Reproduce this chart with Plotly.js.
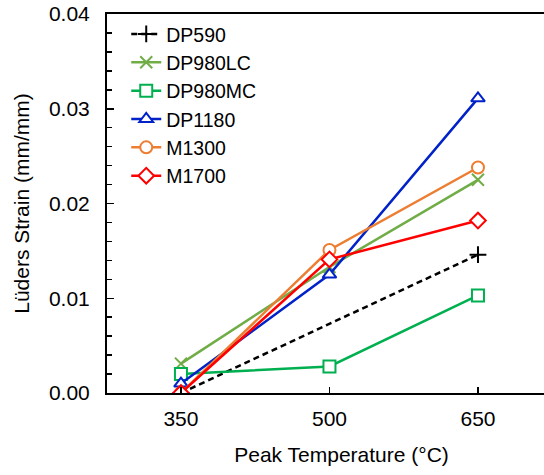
<!DOCTYPE html>
<html>
<head>
<meta charset="utf-8">
<script src="https://cdn.plot.ly/plotly-3.0.1.min.js"></script>
<style>
  html, body { margin: 0; padding: 0; overflow: hidden; background: #fff; }
  #chart { width: 576px; height: 475px; }
</style>
</head>
<body>
<div id="chart"></div>
<script>
// Peak temperature categories (°C)
const temps = [350, 500, 650];

// Lüders strain (mm/mm) per steel grade
const dp590   = [0.0000, null,   0.0146];
const dp980lc = [0.0031, 0.0133, 0.0225];
const dp980mc = [0.0020, 0.0028, 0.0103];
const dp1180  = [0.0010, 0.0125, 0.0311];
const m1300   = [0.0000, 0.0151, 0.0238];
const m1700   = [0.0000, 0.0141, 0.0182];

const seriesNames = ['DP590', 'DP980LC', 'DP980MC', 'DP1180', 'M1300', 'M1700'];
const FONT = 'Arial, "Liberation Sans", sans-serif';

function series(name, y, color, symbol, dash, filled) {
  return {
    type: 'scatter',
    mode: 'lines+markers',
    name: name,
    x: temps,
    y: y,
    connectgaps: true,
    line: { color: color, width: 2.5, dash: dash },
    marker: {
      symbol: symbol,
      size: 12,
      color: filled ? '#ffffff' : color,
      line: { color: color, width: 2 }
    }
  };
}

const traces = [
  series(seriesNames[0], dp590,   '#000000', 'cross-thin',   '6px,4px', false),
  series(seriesNames[1], dp980lc, '#70AD47', 'x-thin',       'solid', false),
  series(seriesNames[2], dp980mc, '#00B050', 'square',       'solid', true),
  series(seriesNames[3], dp1180,  '#0022C8', 'triangle-up',  'solid', true),
  series(seriesNames[4], m1300,   '#ED7D31', 'circle',       'solid', true),
  series(seriesNames[5], m1700,   '#FF0000', 'diamond',      'solid', true)
];

const layout = {
  width: 576,
  height: 475,
  margin: { l: 107, r: 0, t: 14, b: 82 },
  paper_bgcolor: '#ffffff',
  plot_bgcolor: '#ffffff',
  font: { family: FONT, color: '#000000', size: 21 },
  showlegend: true,
  legend: {
    x: 0.041, xanchor: 'left',
    y: 0.998, yanchor: 'top',
    bgcolor: 'rgba(0,0,0,0)',
    font: { family: FONT, size: 19.5, color: '#000000' }
  },
  xaxis: {
    type: 'linear',
    range: [275.3, 749],
    tickvals: temps,
    ticktext: temps.map(String),
    ticks: 'inside', ticklen: 6, tickwidth: 1.5, tickcolor: '#000',
    ticklabelstandoff: 6,
    showline: true, linecolor: '#000', linewidth: 2, mirror: true,
    showgrid: false, zeroline: false,
    tickfont: { family: FONT, size: 21 },
    title: { text: 'Peak Temperature (°C)', font: { family: FONT, size: 21 }, standoff: 18 }
  },
  yaxis: {
    range: [0, 0.04],
    dtick: 0.01,
    tickformat: '.2f',
    ticks: 'inside', ticklen: 7, tickwidth: 1.5, tickcolor: '#000',
    ticklabelstandoff: 11,
    minor: { dtick: 0.002, ticks: 'inside', ticklen: 5, tickwidth: 1.5, tickcolor: '#000', showgrid: false },
    showline: true, linecolor: '#000', linewidth: 2, mirror: false,
    showgrid: false, zeroline: false,
    tickfont: { family: FONT, size: 21 },
    title: { text: 'Lüders Strain (mm/mm)', font: { family: FONT, size: 21 }, standoff: 14 }
  }
};

Plotly.newPlot('chart', traces, layout, { staticPlot: true, displayModeBar: false });
</script>
</body>
</html>
